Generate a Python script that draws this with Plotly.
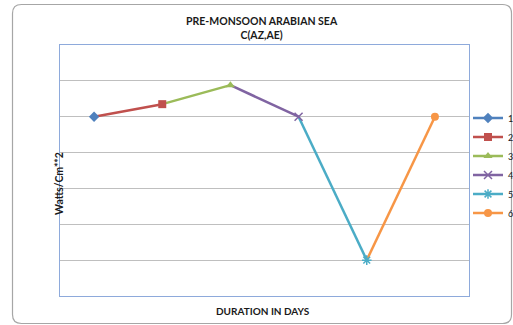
import plotly.graph_objects as go

# ---- data ----
days = ["D1", "D2", "D3", "D4", "D5", "D6"]          # x categories (no tick labels shown)
values = [5.0, 5.35, 5.88, 5.0, 1.0, 5.0]             # C(AZ,AE), Watts/Cm**2
series_names = ["1", "2", "3", "4", "5", "6"]

colors = ["#4F81BD", "#C0504D", "#9BBB59", "#8064A2", "#4BACC6", "#F79646"]
symbols = ["diamond", "square", "triangle-up", "x-thin-open", "asterisk-open", "circle"]
msizes = [8, 8, 8, 8, 8, 8]

fig = go.Figure()

# line segments (series k joins point k-1 to point k)
for k in range(1, len(values)):
    fig.add_trace(go.Scatter(
        x=days[k - 1:k + 1], y=values[k - 1:k + 1], mode="lines",
        line=dict(color=colors[k], width=2.5, shape="spline"),
        showlegend=False, hoverinfo="skip"))

# markers (with legend entries)
for k in range(len(values)):
    thin = symbols[k] in ("x-thin-open", "asterisk-open")
    fig.add_trace(go.Scatter(
        x=[days[k]], y=[values[k]], mode="lines+markers", name=series_names[k],
        line=dict(color=colors[k], width=2.5),
        marker=dict(symbol=symbols[k], size=msizes[k], color=colors[k],
                    line=dict(color=colors[k], width=1.5 if thin else 0))))

# outer rounded chart frame (paper coordinates)
L, R, T, B = 60, 44, 45, 29
W, H = 513, 325
pw, ph = W - L - R, H - T - B
def px(x):
    return (x - L) / pw
def py(y):
    return (H - B - y) / ph
x0, x1, y0, y1 = px(12.5), px(511.5), py(323.5), py(4.5)
rx, ry = 9 / pw, 9 / ph
path = (f"M {x0+rx},{y1} L {x1-rx},{y1} Q {x1},{y1} {x1},{y1-ry} "
        f"L {x1},{y0+ry} Q {x1},{y0} {x1-rx},{y0} L {x0+rx},{y0} "
        f"Q {x0},{y0} {x0},{y0+ry} L {x0},{y1-ry} Q {x0},{y1} {x0+rx},{y1} Z")
fig.add_shape(type="path", xref="paper", yref="paper", path=path,
              line=dict(color="#A6A6A6", width=1.2), layer="below")

font = "Lato, 'Open Sans', sans-serif"
txt = "#1A1A1A"
fig.update_layout(
    width=W, height=H,
    margin=dict(l=L, r=R, t=T, b=B, autoexpand=False),
    paper_bgcolor="white", plot_bgcolor="white",
    font=dict(family=font, color=txt),
    title=dict(text="<b>PRE-MONSOON ARABIAN SEA<br>C(AZ,AE)</b>",
               x=0.51, xanchor="center", y=1 - 25 / H, yanchor="middle",
               font=dict(size=10.5, family=font, color=txt)),
    xaxis=dict(type="category", range=[-0.5, 5.5], showticklabels=False,
               ticks="", showgrid=False, zeroline=False,
               showline=True, linecolor="#8EAADB", linewidth=1.2, mirror=True),
    yaxis=dict(range=[0, 7], dtick=1, showticklabels=False, ticks="",
               showgrid=True, gridcolor="#BFBFBF", gridwidth=1, zeroline=False,
               showline=True, linecolor="#8EAADB", linewidth=1.2, mirror=True),
    legend=dict(x=px(468), xanchor="left", y=py(165.5), yanchor="middle",
                font=dict(size=9, family=font, color=txt),
                itemwidth=30, tracegroupgap=0, bgcolor="rgba(0,0,0,0)",
                borderwidth=0),
    annotations=[
        dict(text="<b>DURATION IN DAYS</b>", xref="paper", yref="paper",
             x=px(263), y=py(311), xanchor="center", yanchor="middle",
             showarrow=False, font=dict(size=10, family=font, color=txt)),
        dict(text="<b>Watts/Cm**2</b>", xref="paper", yref="paper",
             x=px(59), y=py(184), xanchor="center", yanchor="middle",
             textangle=-90, showarrow=False,
             font=dict(size=10.5, family=font, color=txt)),
    ],
)

fig.write_html("out.html", config={"displayModeBar": False},
               post_script="document.body.style.margin='0';")
